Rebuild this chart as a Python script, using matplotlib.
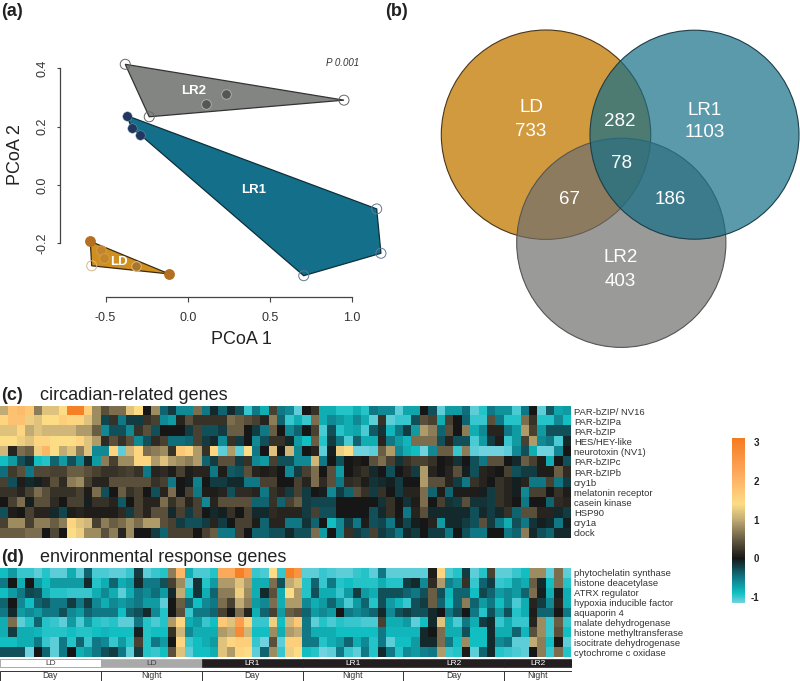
import numpy as np
import matplotlib
matplotlib.use('Agg')
import matplotlib.pyplot as plt
from matplotlib.colors import LinearSegmentedColormap
from matplotlib.patches import Circle, Polygon

plt.rcParams['font.family'] = ['Liberation Sans', 'DejaVu Sans']

W, H = 800, 681

# panel a, PCoA coordinates
ld_x = [-0.593, -0.112, -0.584]
ld_y = [-0.193, -0.305, -0.277]
ld_in_x = [-0.528, -0.508, -0.315]
ld_in_y = [-0.223, -0.251, -0.277]
lr1_x = [-0.371, 1.150, 1.176, 0.706, -0.288, -0.341]
lr1_y = [0.238, -0.082, -0.234, -0.311, 0.172, 0.196]
lr2_x = [-0.380, 0.951, -0.234]
lr2_y = [0.414, 0.291, 0.234]
lr2_in_x = [0.111, 0.231]
lr2_in_y = [0.277, 0.311]
x_ticks = [-0.5, 0.0, 0.5, 1.0]
y_ticks = [-0.2, 0.0, 0.2, 0.4]

# panel b, gene counts
venn_sets = ['LD', 'LR1', 'LR2']
venn_only = [733, 1103, 403]
venn_overlap = [282, 78, 67, 186]

# panel c, z-scores
circadian_genes = ['PAR-bZIP/ NV16', 'PAR-bZIPa', 'PAR-bZIP', 'HES/HEY-like', 'neurotoxin (NV1)',
                   'PAR-bZIPc', 'PAR-bZIPb', 'cry1b', 'melatonin receptor', 'casein kinase',
                   'HSP90', 'cry1a', 'clock']
circadian_vals = [
    [1.0,1.8,1.9,1.7,.7,1.2,1.2,1.4,3,3,1.6,.8,.4,.6,.6,1.2,1.4,0,.8,-.4,-.2,-.6,-.6,.6,-.5,-.1,-.4,-.1,-.3,-1,-.5,-.8,.3,-.5,
     -.6,-1.1,0,.2,-.8,-.8,-.95,-.95,-.8,-.95,-.5,-.6,-.6,-1.1,-.75,-.75,0,-.3,-1.1,-.7,-.7,-.45,-1.1,-.95,-.5,-.65,-.65,-1.05,-.5,0,-1.1,-.35,-.75,-.7],
    [1.5,1.8,1.8,1.3,1.2,1.4,1.4,1.6,1.5,1.5,1.2,.8,-.25,.2,-.5,-.2,-.2,.2,.3,-.6,-.7,.1,.4,.2,.2,.2,.2,.6,.5,.4,.3,.1,.7,-.4,
     -1,-.8,-1,.6,-.8,-.6,-.7,-.8,-.6,-.8,-1.1,.2,-1.1,-1,-1,-.3,.4,.3,-.8,.3,0,-.4,-1,-1,.4,-.5,-.95,-.95,.6,.2,-.95,-.95,-.6,-.9],
    [1.2,1.2,1.5,1.0,1.2,1.1,1.1,1.1,1.1,.9,.9,.5,-.6,-.3,-.3,-.6,.2,.4,-.3,0,0,0,-.2,.3,-.3,-.3,-.2,.5,.5,0,-.2,-.5,.5,0,
     -.6,-.4,0,.3,-1.05,-.3,-.95,-.8,-.75,-1.05,-.35,-.15,-.85,-.5,-.2,-.7,.9,.7,-.4,.4,0,.7,-.8,-.6,.1,.1,-.5,-.7,.9,.3,-.7,-.3,-.3,-.3],
    [1.4,1.4,1.3,1.2,1.5,1.5,1.4,1.4,1.4,1.5,1.2,.9,.15,.4,.2,.4,-.6,-.3,.15,.3,-.45,-.45,-.4,.3,-.2,-.1,-.6,.2,-.2,0,-.6,-.3,.2,.2,
     -.1,-.7,-.9,.5,-.95,-.2,-.5,-1.05,-.4,-.8,-.8,.1,-.5,-.7,-.85,.6,.6,.6,-.3,.1,-.3,-.3,-1.05,-.7,-.2,.05,-1,-.7,.3,.9,-.6,-.5,-1.05,-.1],
    [1.1,.1,.6,.5,1.3,2.0,1.4,1.0,1.2,.7,1.2,-.6,-.6,1.5,-1.1,1.1,1.5,.6,.7,.8,.2,1.7,1.5,.9,.2,1.5,-1.1,.9,-1.1,1.4,-.5,0,1.2,0,
     1.1,-.6,0,.1,-1.1,-.05,1.3,1.4,-1.15,-1.15,-1.1,.5,.9,-.6,-.8,-.9,-1.15,-.6,.5,.5,-1,.7,-1.1,-1.15,-1.15,-1.15,-1.1,-.6,-.3,-.8,-1.15,-1.15,-.6,0],
    [-.9,-.7,-.3,-.15,-.9,-.95,-.4,-.7,-.3,-.6,-.1,-.7,.7,.3,.8,.8,1.5,1.5,.9,1.2,.9,.8,.7,.9,-.4,-.2,.4,.4,-.2,.2,-.6,-.7,.3,-.3,
     -.3,-.6,-.6,1.1,-.5,0,-.3,0,.05,0,.4,.6,.3,-.15,.2,.3,.3,.2,0,.05,-.15,0,-.3,-.5,.4,.4,0,-.1,.5,.3,.05,-.8,0,-.3],
    [-.45,.25,.4,-.5,.35,.35,.3,.3,.5,.5,.4,.3,.2,.2,.25,.3,.2,-.5,.1,.15,.05,.3,.05,.1,.1,-.5,.05,-.35,-.3,.4,.1,.05,.1,0,
     -.6,-.2,.3,.6,0,.4,-.7,0,.1,.2,-.1,0,-.3,0,.1,-.2,.9,.1,0,.1,.4,-.05,-.3,.1,.05,0,.3,-.3,-.2,-.2,.05,.05,.5,.15],
    [.3,-.3,.05,-.1,-.05,.1,.4,.15,.7,.8,.3,.1,.1,.4,.4,.4,.4,.4,.2,.3,-.5,0,-.05,-.55,0,-.2,-.2,-.1,-.1,-.5,-.5,.3,.3,0,
     0,.3,.1,.6,.15,.4,-.5,.15,.2,.05,-.15,-.1,-.05,-.2,0,0,.9,.4,.4,.1,-.2,-.5,.2,.1,0,.2,.1,-.05,.1,-.5,-.5,.3,-.5,-.2],
    [.2,.2,.1,.3,.6,.4,.2,.2,.2,.3,.05,.6,-.3,0,.5,.2,.3,0,-.3,.1,.6,0,.3,-.5,.05,.05,.1,-.3,.15,.15,.1,-.5,.2,.1,
     -.2,.3,-.2,0,-.05,-.6,-.2,-.4,.4,.2,-.2,.2,0,-.2,.1,.1,.6,-.4,.05,-.4,.05,.05,.05,-.05,-.2,.2,.1,-.05,-.6,.3,.3,0,.2,.05],
    [0,.3,.6,-.05,.4,.4,.15,0,.3,.3,-.05,.2,.2,.1,-.35,0,.3,.1,.1,.6,.2,.4,.1,.3,-.6,.1,.4,.4,.4,.4,-.4,-.4,.2,-.4,
     .3,.5,-.2,-.25,-.25,-.25,0,0,0,0,0,-.15,.2,0,-.15,.05,.6,0,.3,-.15,-.2,.4,-.15,-.15,-.2,.2,.1,0,-.5,0,0,-.4,.15,.1],
    [-.3,.05,0,.3,.1,.1,-.1,-.25,.05,.1,.05,.05,.05,.05,.15,-.2,.3,.1,.4,.4,-.1,.3,-.2,.3,0,-.1,-.05,.2,0,.3,-.1,-.1,.15,.1,
     .1,.1,-.2,.3,-.3,-.3,0,0,0,0,-.3,-.1,.2,0,-.5,.1,.4,-.1,-.1,-.1,-.1,-.1,-.3,-.1,-.2,-.1,.2,-.4,.4,.4,.1,.1,-.1,-.2],
    [.3,.8,.8,.3,.7,.7,.5,.7,1.5,1.2,1.1,.3,.7,.5,.6,.8,.6,.9,.9,.4,.3,-.2,-.3,-.3,-.2,.1,-.2,0,.3,.3,.05,-.4,.1,.1,
     -.5,-.5,-.15,-.4,0,-.9,-.6,-.2,-.5,.05,-.3,-.25,-.5,-.05,-.25,-.05,0,.1,-.7,-.1,-.1,-.2,-.3,.4,-.2,-.5,-.8,-.3,-.5,-.15,-.05,-.1,-.5,-.05],
    [.5,.5,.5,.6,.6,0,.35,0,1.4,1.3,.8,.8,.4,.7,.1,.8,0,0,-.2,-.4,.3,.3,.3,0,.3,.5,-.5,-.5,.3,0,-.4,-.4,-.3,-.3,
     -.1,-.3,-.3,.6,-.7,0,-.6,.2,-.2,-.3,.3,-.2,-.3,-.5,-.1,-.2,0,-.2,-.2,-.5,0,-.3,-.5,-.5,0,0,-.5,-.4,.7,-.1,-.3,-.4,-.1,-.1],
]

# panel d, z-scores
environment_genes = ['phytochelatin synthase', 'histone deacetylase', 'ATRX regulator',
                     'hypoxia inducible factor', 'aquaporin 4', 'malate dehydrogenase',
                     'histone methyltransferase', 'isocitrate dehydrogenase', 'cytochrome c oxidase']
environment_vals = [
    [-.9,-.7,-1,-1,-1.1,-.95,-1.1,-1.1,-.8,-1.1,-.4,-1.05,-1.05,-1.1,-1.1,-1,-.2,-1.1,-1,-.95,.7,2.0,-.8,-1.05,-1.05,-.95,2.2,2.2,3,2.5,-1,-1.05,1.4,-1,
     3,2.6,-1.1,-1.1,-1,-1.05,-1.1,-1.1,-1,-.95,-1.1,-.5,-1.1,-1.1,-1.1,-1.1,-1.1,.05,1.5,-1.05,-.95,-.2,-1.1,-.95,.3,-1.1,-1.1,-1,-.9,.8,.8,-1.1,.6,-1.1],
    [-.5,0,-.8,0,-.7,-.9,-.7,-.7,-.7,-.7,-.1,-.95,-.8,-.4,-.8,-.7,-.1,-.5,-.5,-.3,.3,.8,-1.1,-.15,-.95,-.7,.9,.9,1.2,.9,-.8,-.8,.6,-.3,
     1.0,1.2,-.95,-.4,-1,-.5,-.95,-.9,-.95,-.95,-.95,-.8,-.95,-.95,-.2,-.1,-.6,.15,.9,-.55,-.7,.2,-1,-.4,-.2,-1,-.95,-.7,-.8,.5,-.1,-.9,.6,-.95],
    [-.9,-.7,-.5,-.25,-.3,-.8,-.95,-.95,-1,-1,-1,-.8,-.6,-.8,-1.1,-.8,-.5,-.6,-.45,-.7,-.1,1.0,-.9,-.15,-.8,-.4,.7,.7,1.3,.8,-.8,-.1,.4,-.8,
     1.4,.9,-.95,-.3,-.8,-.8,-1,-.7,-.2,-.7,-.8,-.3,-.3,-.3,-.4,-.5,-.3,.5,-.3,-.85,-.4,-.4,-.9,-.25,-.4,-.7,-.6,-.7,-.4,.6,-.05,-.8,-.05,-.8],
    [-.4,0,-.6,-.9,-.4,-.3,-.5,-.5,-.2,-.5,-.2,-.6,-.8,-.6,-.7,-.6,-.5,-.7,-.7,-1.1,0,.5,-.4,-.9,-.6,-.5,.6,.3,1.0,.7,-.7,-.6,.6,-.8,
     .9,.9,-.6,-.8,-.7,-.4,-.7,-1.05,-.7,-.4,-.95,-.3,-.7,-.85,-1,-.3,-.2,.5,-.4,-.9,-.4,.7,-.4,-.7,-.5,-.9,-.6,-1.05,-.8,.1,-.2,-.6,.1,-.8],
    [-.5,-.1,-.7,-.6,-.7,-.5,-.5,-.3,-.6,-.7,-.4,-.5,-.5,-.5,-.9,-.4,-.3,-.1,-.6,-.95,0,.4,-1,-.5,-.5,-.4,.3,0,.6,.1,-.8,-.4,.3,-.7,
     .5,.4,-.4,-.7,-.6,-.7,0,-.5,-.6,-.5,-.4,-.1,-.6,-.3,-.2,-.3,-.3,-.1,0,-.5,-.3,0,-.5,-.95,-.3,-.7,-.3,-.95,-.8,.05,-.4,-.4,0,-.5],
    [-.8,.6,-1.1,-.95,-.4,-.95,-1,-1.1,-.7,-1.05,-.7,-.95,-1,-.95,-1.1,-1.1,-.5,-.95,-1.05,-.95,.9,1.5,-.8,-.7,-1,-.9,1.7,1.2,2.4,1.5,-1,-1,1.3,-.9,
     1.1,1.7,-.5,-1.1,-.95,-1.05,-.95,-1,-1,-1.05,-1.05,.3,-.8,-.8,-.7,-1.1,-.9,-.1,1.2,-.8,-1.05,-.5,-.8,-.2,-.1,-1,-.8,-1,-1,.1,.8,-1,.5,-1],
    [-.8,-.2,-.8,-.8,-.85,-.95,-.95,-.95,-.9,-.95,-.95,-.9,-.85,-.9,-.9,-.9,-.05,-.95,-.9,-.9,.2,1.1,-.6,-.8,-.8,-.8,.9,1.0,2.8,1.1,-.9,-.9,.8,-.8,
     .9,1.0,-.5,-.8,-.8,-.8,-.9,-.9,-.9,-.9,-.9,-.5,-.85,-.85,-.85,-.85,-.1,0,.6,-.8,-.8,-.3,-.9,-.9,-.1,-.8,-.8,-.4,-.85,.4,.8,-1,.4,-.9],
    [-.9,-.9,-.8,-.8,-.5,-1,-1.1,-.5,-.95,-.4,-1,-.5,-.6,-1,-.7,-.95,.3,-.95,-.5,-.7,0,1.5,-1,-.9,-.8,-.7,1.2,1.5,1.6,1.6,-1,-1.15,.4,-1.1,
     1.6,1.6,-.5,-.5,-.95,-.8,-.7,-.4,-.8,-.6,-.95,-.5,-1.1,-.9,-.9,-.7,-.1,-.1,.6,-.5,-.9,.8,-.9,-.9,-.1,-.6,-.5,-1.1,-1.1,1.0,.7,-.9,0,-1.1],
    [-.3,-.3,-.3,-1.15,0,-.4,-1.1,-.5,0,-.8,-.7,-.5,-.3,-.2,-.5,-1.1,-.2,-.95,-1,-.9,.4,1.2,-1.1,-.9,-.9,-.8,1.2,.9,1.5,1.4,-1.1,-.4,.8,-1,
     1.3,1.4,-.9,-.95,-1.15,-1.1,-.5,-1,-1.1,-.5,-.95,-.1,-.5,-.95,-.6,-.7,-.55,-.5,.9,-1,-.95,.05,-1.1,-.4,-.1,-.95,-1,-1.05,-1.1,0,.7,-1,.6,-.95],
]

# sample strip below the heat maps
strip_labels = ['LD', 'LD', 'LR1', 'LR1', 'LR2', 'LR2']
strip_phase = ['Day', 'Night', 'Day', 'Night', 'Day', 'Night']
strip_cols = [12, 12, 12, 12, 12, 8]
strip_face = ['white', '#a9a9a9', '#231f20', '#231f20', '#231f20', '#231f20']
strip_text = ['#444444', '#444444', 'white', 'white', 'white', 'white']

heat_cmap = LinearSegmentedColormap.from_list('heat', [
    (0.0, '#70d2de'), (0.06, '#10bfc2'), (0.16, '#107280'), (0.27, '#161616'),
    (0.39, '#6b5f45'), (0.51, '#c4ae76'), (0.60, '#fddc86'), (0.80, '#fda65a'), (1.0, '#f47b20')])
VMIN, VMAX = -1.15, 3.1


def px_axes(fig, left, top, right, bottom):
    return fig.add_axes([left / W, 1 - bottom / H, (right - left) / W, (bottom - top) / H])


def px_text(fig, x, y, s, **kwargs):
    fig.text(x / W, 1 - y / H, s, **kwargs)


def draw_pcoa(fig):
    ax = px_axes(fig, 60, 50, 390, 296.7)
    ax.set_xlim(-0.777, 1.231)
    ax.set_ylim(-0.383, 0.463)
    ax.patch.set_alpha(0)
    groups = [(ld_x, ld_y, '#d0901f', '#3a2a10'), (lr1_x, lr1_y, '#14708a', '#0d2f3a'), (lr2_x, lr2_y, '#838583', '#333333')]
    for xs, ys, face, edge in groups:
        ax.add_patch(Polygon(np.column_stack([xs, ys]), closed=True, facecolor=face, edgecolor=edge, lw=0.9))
    # open circles at hull corners, filled ones for the rest
    ax.scatter(lr2_x, lr2_y, s=52, facecolors='none', edgecolors='#666666', lw=0.7, zorder=3)
    ax.scatter(lr2_in_x, lr2_in_y, s=48, c='#555755', edgecolors='#b5b5b5', lw=0.6, zorder=3)
    ax.scatter(lr1_x[1:4], lr1_y[1:4], s=52, facecolors='none', edgecolors='#5f7a9a', lw=0.7, zorder=3)
    ax.scatter([lr1_x[0], lr1_x[5], lr1_x[4]], [lr1_y[0], lr1_y[5], lr1_y[4]], s=46, c='#22375f', edgecolors='#8fa0b5', lw=0.3, zorder=3)
    ax.scatter(ld_x[:2], ld_y[:2], s=46, c='#b36f22', zorder=3)
    ax.scatter(ld_x[2], ld_y[2], s=52, facecolors='none', edgecolors='#d9b48c', lw=0.7, zorder=3)
    ax.scatter(ld_in_x, ld_in_y, s=48, c='#c2852a', edgecolors='#d6a050', lw=0.6, zorder=3)
    ax.scatter(ld_in_x[2], ld_in_y[2], s=46, c='#a8752c', edgecolors='#e0bc80', lw=0.6, zorder=3)

    ax.text(0.037, 0.323, 'LR2', color='white', fontsize=9.5, fontweight='bold', ha='center', va='center', zorder=4)
    ax.text(0.404, -0.017, 'LR1', color='white', fontsize=9.5, fontweight='bold', ha='center', va='center', zorder=4)
    ax.text(-0.416, -0.263, 'LD', color='white', fontsize=9.5, fontweight='bold', ha='center', va='center', zorder=4)
    ax.text(0.94, 0.42, 'P 0.001', color='#333333', fontsize=7, style='italic', ha='center', va='center')

    for side in ['top', 'right']:
        ax.spines[side].set_visible(False)
    ax.spines['left'].set_bounds(-0.2, 0.4)
    ax.spines['bottom'].set_bounds(-0.5, 1.0)
    for side in ['left', 'bottom']:
        ax.spines[side].set_color('#444444')
        ax.spines[side].set_linewidth(0.9)
    ax.set_xticks(x_ticks)
    ax.set_xticklabels([f'{v:.1f}' for v in x_ticks])
    ax.set_yticks(y_ticks)
    ax.set_yticklabels([f'{v:.1f}' for v in y_ticks], rotation=90, va='center')
    ax.tick_params(axis='x', labelsize=9, length=3.6, width=0.8, color='#444444', labelcolor='#333333', pad=7.5)
    ax.tick_params(axis='y', labelsize=9, length=2.5, width=0.8, color='#444444', labelcolor='#333333', pad=5.5)
    px_text(fig, 241, 340, 'PCoA 1', fontsize=13, color='#222222', ha='center', va='center')
    px_text(fig, 15, 155, 'PCoA 2', fontsize=13, color='#222222', ha='center', va='center', rotation=90)


def draw_venn(fig):
    ax = px_axes(fig, 0, 0, W, H)
    ax.set_xlim(0, W)
    ax.set_ylim(H, 0)
    ax.axis('off')
    ax.patch.set_alpha(0)
    ax.add_patch(Circle((546, 134.7), 104.7, facecolor='#d29a3f', edgecolor='#4a3518', lw=0.8))
    ax.add_patch(Circle((621.3, 242.8), 104.6, facecolor=(111/255, 111/255, 108/255, 0.7), edgecolor='#555555', lw=0.8))
    ax.add_patch(Circle((694.5, 134.7), 104.5, facecolor=(21/255, 111/255, 136/255, 0.7), edgecolor='#1d3d48', lw=0.8))
    places = [(531, 108), (705, 110.5), (620.5, 258)]
    count_y = [132, 132.5, 281]
    for name, count, (x, y), cy in zip(venn_sets, venn_only, places, count_y):
        ax.text(x, y, name, color='white', fontsize=13.5, ha='center', va='center')
        ax.text(x, cy, str(count), color='white', fontsize=13.5, ha='center', va='center')
    over_places = [(620, 121), (621.5, 164), (570, 200), (670.5, 200)]
    for count, (x, y) in zip(venn_overlap, over_places):
        ax.text(x, y, str(count), color='white', fontsize=13.5, ha='center', va='center')


def draw_heat(fig, vals, genes, top, bottom):
    ax = px_axes(fig, 0, top, 571, bottom)
    im = ax.imshow(np.array(vals), cmap=heat_cmap, vmin=VMIN, vmax=VMAX, aspect='auto', interpolation='nearest')
    ax.set_xticks([])
    ax.yaxis.tick_right()
    ax.set_yticks(range(len(genes)))
    ax.set_yticklabels(genes, fontsize=6.8, color='#333333')
    ax.tick_params(axis='y', length=0, pad=2)
    for spine in ax.spines.values():
        spine.set_visible(False)
    return im


def draw_strip(fig):
    ax = px_axes(fig, 0, 658, 571.5, 681)
    ax.set_xlim(0, sum(strip_cols))
    ax.set_ylim(681, 658)
    ax.axis('off')
    start = 0
    for label, phase, n, face, tcolor in zip(strip_labels, strip_phase, strip_cols, strip_face, strip_text):
        ax.barh(663.3, n, height=8, left=start, color=face, edgecolor='#888888' if face == 'white' else face, lw=0.5)
        ax.text(start + n / 2, 663.3, label, fontsize=6, color=tcolor, ha='center', va='center')
        ax.plot([start, start, start + n], [680, 671, 671], color='#333333', lw=0.7)
        ax.text(start + n / 2, 676, phase, fontsize=6.2, color='#333333', ha='center', va='center')
        start += n
    ax.plot([start, start], [671, 680], color='#333333', lw=0.7)


def main():
    fig = plt.figure(figsize=(W / 100, H / 100), dpi=100)
    draw_pcoa(fig)
    draw_venn(fig)
    im = draw_heat(fig, circadian_vals, circadian_genes, 406, 538)
    draw_heat(fig, environment_vals, environment_genes, 568, 657)
    draw_strip(fig)

    cax = px_axes(fig, 732, 438, 745, 603)
    cbar = fig.colorbar(im, cax=cax)
    cbar.outline.set_visible(False)
    cbar.set_ticks([-1, 0, 1, 2, 3])
    cbar.set_ticklabels(['-1', '0', '1', '2', '3'])
    cbar.ax.tick_params(labelsize=7, length=0, pad=10, labelcolor='#222222')
    for label in cbar.ax.get_yticklabels():
        label.set_ha('right')
        label.set_fontweight('bold')

    px_text(fig, 1, 11, '(a)', fontsize=13, fontweight='bold', color='#222222', ha='left', va='center')
    px_text(fig, 385, 11, '(b)', fontsize=13, fontweight='bold', color='#222222', ha='left', va='center')
    px_text(fig, 1, 396, '(c)', fontsize=13, fontweight='bold', color='#222222', ha='left', va='center')
    px_text(fig, 40, 396, 'circadian-related genes', fontsize=13, color='#222222', ha='left', va='center')
    px_text(fig, 1, 557, '(d)', fontsize=13, fontweight='bold', color='#222222', ha='left', va='center')
    px_text(fig, 40, 557, 'environmental response genes', fontsize=13, color='#222222', ha='left', va='center')

    fig.savefig('out.png', dpi=100)
    plt.close(fig)


if __name__ == "__main__":
    main()
